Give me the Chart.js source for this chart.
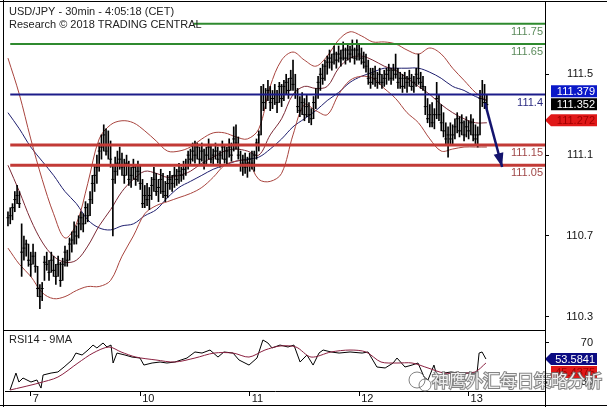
<!DOCTYPE html>
<html>
<head>
<meta charset="utf-8">
<script src="https://cdn.jsdelivr.net/npm/chart.js@4.4.0/dist/chart.umd.min.js"></script>
<style>
html,body{margin:0;padding:0;background:#fff;}
#wrap{position:relative;width:607px;height:407px;overflow:hidden;background:#fff;}
canvas{position:absolute;left:0;}
#main{top:0;}
#rsi{top:331px;}
.ln{position:absolute;background:#000;}
</style>
</head>
<body>
<div id="wrap">
  <canvas id="main" width="607" height="331"></canvas>
  <canvas id="rsi" width="607" height="76"></canvas>
  <div class="ln" style="left:0;top:1px;width:607px;height:1px"></div>
  <div class="ln" style="left:3px;top:0;width:1px;height:407px"></div>
  <div class="ln" style="left:545px;top:2px;width:1px;height:405px"></div>
  <div class="ln" style="left:3px;top:330px;width:542px;height:1px"></div>
  <div class="ln" style="left:0;top:405px;width:607px;height:1px"></div>
</div>
<script>
// Barres 30 min (index 0..210)
const barHigh = [
110.82,110.84,110.86,110.92,110.95,110.92,110.76,110.70,110.68,110.66,
110.62,110.66,110.62,110.55,110.46,110.47,110.60,110.62,110.58,110.62,
110.60,110.56,110.60,110.57,110.59,110.65,110.63,110.69,110.72,110.77,
110.75,110.80,110.82,110.81,110.87,110.86,110.92,111.00,111.05,111.10,
111.16,111.20,111.25,111.23,111.22,111.17,111.05,111.09,111.12,111.14,
111.11,111.08,111.10,111.07,111.04,111.08,111.05,111.07,111.05,110.98,
110.95,110.96,110.94,110.99,111.04,111.01,110.98,111.03,111.01,110.97,
111.00,111.02,111.00,111.04,111.03,111.06,111.04,111.07,111.08,111.12,
111.13,111.16,111.17,111.16,111.14,111.16,111.13,111.14,111.18,111.15,
111.13,111.16,111.14,111.12,111.17,111.15,111.14,111.18,111.16,111.24,
111.25,111.19,111.12,111.10,111.11,111.09,111.11,111.12,111.12,111.18,
111.22,111.44,111.45,111.43,111.47,111.44,111.42,111.45,111.42,111.46,
111.45,111.47,111.50,111.48,111.52,111.57,111.50,111.43,111.39,111.41,
111.38,111.40,111.36,111.33,111.39,111.43,111.49,111.53,111.55,111.57,
111.59,111.62,111.60,111.64,111.61,111.64,111.62,111.66,111.63,111.65,
111.64,111.67,111.63,111.67,111.65,111.63,111.61,111.60,111.57,111.53,
111.53,111.54,111.51,111.53,111.50,111.52,111.53,111.55,111.53,111.55,
111.60,111.53,111.51,111.50,111.51,111.49,111.52,111.50,111.49,111.53,
111.60,111.51,111.49,111.44,111.38,111.35,111.36,111.33,111.46,111.40,
111.35,111.31,111.26,111.24,111.26,111.25,111.28,111.31,111.29,111.30,
111.27,111.29,111.27,111.30,111.28,111.25,111.24,111.42,111.47,111.45,
111.40];
const barLow = [
110.75,110.76,110.78,110.82,110.86,110.84,110.50,110.58,110.60,110.55,
110.50,110.56,110.52,110.40,110.34,110.38,110.48,110.53,110.48,110.52,
110.50,110.46,110.50,110.45,110.48,110.55,110.55,110.58,110.62,110.66,
110.66,110.69,110.73,110.72,110.76,110.77,110.80,110.86,110.92,110.96,
111.02,111.08,111.12,111.10,111.08,111.04,110.70,110.96,111.00,111.03,
111.00,110.96,111.00,110.95,110.94,110.98,110.95,110.97,110.93,110.84,
110.84,110.85,110.83,110.88,110.92,110.90,110.87,110.91,110.89,110.87,
110.89,110.93,110.92,110.94,110.95,110.96,110.97,110.98,111.00,111.03,
111.05,111.07,111.06,111.08,111.05,111.07,111.03,111.05,111.08,111.06,
111.05,111.08,111.06,111.04,111.08,111.06,111.05,111.09,111.07,111.12,
111.13,111.08,111.02,111.00,111.01,110.99,111.02,111.03,111.02,111.08,
111.12,111.20,111.32,111.33,111.37,111.32,111.33,111.35,111.31,111.36,
111.34,111.37,111.40,111.38,111.42,111.42,111.38,111.31,111.29,111.30,
111.27,111.29,111.26,111.25,111.28,111.33,111.38,111.42,111.45,111.47,
111.50,111.53,111.52,111.55,111.53,111.56,111.54,111.57,111.55,111.57,
111.56,111.58,111.55,111.57,111.57,111.55,111.53,111.51,111.45,111.43,
111.45,111.44,111.43,111.45,111.43,111.44,111.45,111.47,111.45,111.47,
111.48,111.43,111.43,111.41,111.43,111.41,111.44,111.42,111.41,111.44,
111.45,111.43,111.42,111.30,111.26,111.24,111.24,111.23,111.28,111.27,
111.22,111.19,111.15,111.09,111.15,111.15,111.18,111.21,111.19,111.20,
111.17,111.19,111.18,111.20,111.17,111.15,111.14,111.20,111.34,111.33,
111.32];
const barClose = [
110.79,110.80,110.84,110.88,110.90,110.86,110.62,110.64,110.66,110.58,
110.56,110.60,110.55,110.44,110.40,110.44,110.57,110.56,110.52,110.58,
110.53,110.50,110.56,110.48,110.56,110.62,110.58,110.66,110.68,110.72,
110.70,110.76,110.79,110.76,110.84,110.80,110.88,110.96,111.00,111.04,
111.12,111.14,111.20,111.12,111.15,111.08,110.98,111.02,111.06,111.08,
111.04,111.00,111.06,110.98,111.00,111.04,110.98,111.02,110.96,110.86,
110.90,110.88,110.90,110.95,110.98,110.92,110.94,110.98,110.92,110.90,
110.96,110.98,110.96,111.00,110.98,111.02,111.00,111.03,111.05,111.10,
111.08,111.12,111.10,111.14,111.08,111.12,111.06,111.10,111.14,111.08,
111.10,111.12,111.08,111.10,111.14,111.08,111.12,111.14,111.10,111.18,
111.16,111.10,111.05,111.06,111.04,111.06,111.08,111.06,111.10,111.16,
111.20,111.40,111.36,111.40,111.42,111.36,111.38,111.40,111.36,111.44,
111.38,111.44,111.46,111.42,111.48,111.45,111.40,111.34,111.32,111.36,
111.30,111.34,111.30,111.28,111.36,111.40,111.46,111.50,111.48,111.54,
111.56,111.58,111.56,111.60,111.57,111.60,111.58,111.62,111.58,111.62,
111.60,111.62,111.58,111.62,111.60,111.58,111.56,111.54,111.48,111.46,
111.50,111.48,111.46,111.50,111.46,111.48,111.50,111.52,111.48,111.52,
111.50,111.46,111.48,111.44,111.48,111.46,111.48,111.44,111.46,111.50,
111.48,111.46,111.44,111.34,111.28,111.30,111.26,111.30,111.38,111.30,
111.26,111.22,111.18,111.20,111.18,111.20,111.24,111.28,111.22,111.26,
111.20,111.24,111.22,111.26,111.20,111.18,111.20,111.38,111.40,111.36,
111.35];

// Bandes de Bollinger et moyenne longue (un point toutes les 5 barres)
const lineIdx = [0,5,10,15,20,25,30,35,40,45,50,55,60,65,70,75,80,85,90,95,100,105,
                 110,115,120,125,130,135,140,145,150,155,160,165,170,175,180,185,190,195,200,205,210];
const bbUpper = [111.58,111.40,111.18,110.98,110.81,110.69,110.76,110.96,111.18,111.25,
                 111.27,111.26,111.22,111.17,111.12,111.12,111.14,111.18,111.21,111.21,
                 111.19,111.18,111.23,111.44,111.57,111.61,111.57,111.54,111.59,111.67,
                 111.71,111.69,111.66,111.66,111.65,111.62,111.60,111.63,111.60,111.53,
                 111.47,111.41,111.37];
const bbMid = [111.05,110.92,110.78,110.67,110.60,110.57,110.58,110.65,110.75,110.83,
               110.92,110.98,111.02,111.01,110.99,111.00,111.02,111.06,111.09,111.12,
               111.13,111.12,111.10,111.20,111.28,111.40,111.44,111.43,111.44,111.53,
               111.58,111.59,111.57,111.54,111.52,111.48,111.44,111.40,111.35,111.31,
               111.28,111.26,111.26];
const bbLower = [110.64,110.56,110.50,110.42,110.39,110.40,110.43,110.45,110.45,110.48,
                 110.60,110.70,110.81,110.85,110.87,110.89,110.91,110.94,110.99,111.05,
                 111.07,111.07,110.98,110.97,111.01,111.20,111.35,111.32,111.30,111.40,
                 111.47,111.49,111.48,111.43,111.38,111.31,111.26,111.18,111.12,111.13,
                 111.14,111.14,111.14];
const maLong = [111.31,111.23,111.14,111.07,111.00,110.92,110.86,110.78,110.74,110.73,
                110.75,110.76,110.80,110.83,110.89,110.94,110.97,111.00,111.03,111.05,
                111.07,111.08,111.09,111.13,111.18,111.24,111.28,111.32,111.37,111.41,
                111.46,111.49,111.51,111.53,111.53,111.53,111.53,111.51,111.48,111.44,
                111.42,111.39,111.37];

// Niveaux
const levelVals = [111.75, 111.65, 111.4, 111.15, 111.05];
const levelLabels = ['111.75','111.65','111.4','111.15','111.05'];
const levelStart = 1;

// Fleche de projection
const arrowX = [209.2, 216.7];
const arrowY = [111.357, 111.041];

// Axe des prix
const priceTicks = [110.3, 110.7, 111.1, 111.5];
const yMin = 110.2546, yMax = 111.8427;
const xMin = -1.3, xMax = 235.5;
const boxVals = [111.379, 111.352, 111.272];
const boxTexts = ['111.379', '111.352', '111.272'];

// Jours
const dayIdx = [10, 58, 106, 154, 202];
const dayLabels = ['7', '10', '11', '12', '13'];

// RSI 14 et sa moyenne 9
const rsiX = [0.9,3.5,4.8,6.6,10.1,12.7,14.5,15.4,18.9,21.9,24.6,28.1,29.8,32.5,35.1,
              37.3,39.0,41.7,43.4,45.2,46.1,47.8,51.3,54.4,57.9,59.6,63.2,66.7,69.7,73.2,
              78.5,82.0,85.1,88.6,92.1,94.7,98.7,101.3,105.7,109.2,111.8,114.0,115.8,119.3,122.8,
              125.4,128.1,131.1,133.8,136.4,138.2,141.7,145.2,150.0,155.3,157.9,161.8,165.4,168.9,170.6,
              174.1,177.2,179.8,182.5,184.2,186.8,188.6,191.2,194.3,197.8,201.3,205.7,206.6,207.9,209.6];
const rsiVal = [21.8,39.2,30.0,34.1,30.0,32.1,23.8,37.2,39.2,40.3,45.4,52.6,59.7,57.7,62.8,
                67.9,64.9,70.0,65.9,67.9,49.5,59.7,57.7,55.6,54.6,47.4,49.5,50.5,49.5,50.5,
                54.6,60.8,59.7,62.8,55.6,60.8,59.7,52.6,47.4,54.6,73.1,70.0,64.9,67.9,65.9,
                67.9,50.5,57.7,47.4,59.7,62.8,60.8,59.7,60.8,59.7,60.8,45.4,44.4,49.5,54.6,
                45.4,47.4,49.5,35.1,32.1,47.4,32.1,39.2,40.3,39.2,39.2,39.2,59.7,60.8,53.6];
const rsiMaX = [0.9,6.6,13.6,21.9,30.7,37.3,44.3,49.6,56.1,64.9,73.2,82.0,90.4,98.7,105.7,
                112.7,119.3,126.3,132.9,141.7,150.0,157.0,163.6,170.6,177.2,184.2,191.2,197.8,204.8,209.6];
const rsiMaVal = [21.8,24.9,29.0,35.1,49.5,59.7,65.9,60.8,55.6,52.6,50.5,54.6,59.7,59.7,55.6,
                  62.8,66.9,65.9,55.6,60.8,62.8,60.8,50.5,49.5,49.5,44.4,39.2,39.2,40.3,49.5];
const rsiTicks = [30, 70];
const rsiMin = 20.8, rsiMax = 82.3;
const rsiBoxVals = [53.5841, 45.4375];
const rsiBoxTexts = ['53.5841', '45.4375'];

const FONT = "'Liberation Sans', Arial, sans-serif";

const pts = (xs, ys) => xs.map((x, i) => ({x: x, y: ys[i]}));

// axe de droite : largeur fixe, pas de marge verticale
function fitRight(s){ s.width = 48; s.paddingTop = 0; s.paddingBottom = 0; }

// Boite de valeur a droite de l'axe
function valueBox(ctx, y, text, bg, fg, pointer){
  const h = 12, left = 551, right = 597;
  ctx.save();
  ctx.fillStyle = bg;
  ctx.beginPath();
  if (pointer){
    ctx.moveTo(545, y);
    ctx.lineTo(left, y - h/2);
    ctx.lineTo(right, y - h/2);
    ctx.lineTo(right, y + h/2);
    ctx.lineTo(left, y + h/2);
  } else {
    ctx.rect(left, y - h/2, right - left, h);
  }
  ctx.closePath();
  ctx.fill();
  ctx.fillStyle = fg;
  ctx.font = '11px ' + FONT;
  ctx.textAlign = 'right';
  ctx.textBaseline = 'middle';
  ctx.fillText(text, right - 2, y + 0.5);
  ctx.restore();
}

// -------- GRAPHIQUE PRINCIPAL --------
const levelColors = ['#2f8a2f','#2f8a2f','#1c1c8a','#c23a36','#c23a36'];
const levelText = ['#5b8a5b','#5b8a5b','#2a2a80','#a04848','#a04848'];
const levelWidth = [2, 2, 2, 3, 3];

const mainOverlay = {
  id: 'mainOverlay',
  afterDatasetsDraw(chart){
    const ctx = chart.ctx, xs = chart.scales.x, ys = chart.scales.y;
    ctx.save();
    // titre
    ctx.fillStyle = '#fff';
    ctx.fillRect(4, 3, 190, 28);
    ctx.fillStyle = '#222';
    ctx.font = '11px ' + FONT;
    ctx.textAlign = 'left';
    ctx.textBaseline = 'middle';
    ctx.fillText('USD/JPY - 30min - 4:05:18 (CET)', 9, 11.5);
    ctx.fillText('Research \u00A9 2018 TRADING CENTRAL', 9, 24.5);
    // etiquettes des niveaux
    ctx.textAlign = 'right';
    levelVals.forEach((v, k) => {
      ctx.fillStyle = levelText[k];
      ctx.fillText(levelLabels[k], xs.right - 2, ys.getPixelForValue(v) + 8);
    });
    // pointe de fleche
    const x0 = xs.getPixelForValue(arrowX[0]), y0 = ys.getPixelForValue(arrowY[0]);
    const x1 = xs.getPixelForValue(arrowX[1]), y1 = ys.getPixelForValue(arrowY[1]);
    const a = Math.atan2(y1 - y0, x1 - x0);
    const L = 14, W = 5;
    ctx.fillStyle = '#14146e';
    ctx.beginPath();
    ctx.moveTo(x1, y1);
    ctx.lineTo(x1 - L*Math.cos(a) + W*Math.sin(a), y1 - L*Math.sin(a) - W*Math.cos(a));
    ctx.lineTo(x1 - L*Math.cos(a) - W*Math.sin(a), y1 - L*Math.sin(a) + W*Math.cos(a));
    ctx.closePath();
    ctx.fill();
    ctx.restore();
  },
  afterDraw(chart){
    const ctx = chart.ctx, ys = chart.scales.y;
    const yBlack = ys.getPixelForValue(boxVals[1]);
    valueBox(ctx, yBlack - 13, boxTexts[0], '#0a18c8', '#fff', false);
    valueBox(ctx, yBlack, boxTexts[1], '#000', '#fff', false);
    valueBox(ctx, ys.getPixelForValue(boxVals[2]), boxTexts[2], '#e01818', '#a00000', true);
  }
};

const barData = barHigh.map((h, i) => ({x: i, y: [barLow[i], h]}));
const closeData = barClose.map((c, i) => ({x: i, y: c}));

const levelSets = levelVals.map((v, k) => ({
  type: 'line',
  data: [{x: levelStart, y: v}, {x: xMax, y: v}],
  borderColor: levelColors[k],
  borderWidth: levelWidth[k],
  pointRadius: 0,
  order: 1
}));

const bandStyle = (color) => ({
  type: 'line', borderColor: color, borderWidth: 1, pointRadius: 0,
  tension: 0.35, fill: false, order: 6
});

const mainChart = new Chart(document.getElementById('main'), {
  type: 'bar',
  data: {
    datasets: [
      Object.assign({data: pts(lineIdx, bbUpper)}, bandStyle('#a8443e')),
      Object.assign({data: pts(lineIdx, bbLower)}, bandStyle('#a8443e')),
      Object.assign({data: pts(lineIdx, bbMid)}, bandStyle('#7c2a36')),
      Object.assign({data: pts(lineIdx, maLong)}, bandStyle('#1e1e6e')),
      {type: 'bar', data: barData, backgroundColor: '#000', barThickness: 1, order: 4},
      {type: 'scatter', data: closeData, pointStyle: 'line', pointRadius: 1.5,
       borderColor: '#000', borderWidth: 1, order: 3},
      ...levelSets,
      {type: 'line', data: pts(arrowX, arrowY), borderColor: '#14146e', borderWidth: 2.5,
       pointRadius: 0, order: 0}
    ]
  },
  options: {
    responsive: false,
    devicePixelRatio: 1,
    animation: false,
    events: [],
    layout: {padding: {left: 5, top: 3, right: 14, bottom: 1}},
    plugins: {legend: {display: false}, tooltip: {enabled: false}},
    scales: {
      x: {type: 'linear', min: xMin, max: xMax, offset: false, display: false},
      y: {
        position: 'right', min: yMin, max: yMax,
        afterFit: fitRight,
        afterBuildTicks(s){ s.ticks = priceTicks.map(v => ({value: v})); },
        grid: {drawOnChartArea: false, drawTicks: true, tickLength: 4, color: '#000'},
        border: {display: false},
        ticks: {crossAlign: 'far', padding: 17, color: '#111',
                font: {family: FONT, size: 11}, callback: v => v.toFixed(1)}
      }
    }
  },
  plugins: [mainOverlay]
});

// -------- RSI --------
const rsiOverlay = {
  id: 'rsiOverlay',
  afterDraw(chart){
    const ctx = chart.ctx, ys = chart.scales.y;
    ctx.save();
    ctx.fillStyle = '#222';
    ctx.font = '11px ' + FONT;
    ctx.textAlign = 'left';
    ctx.textBaseline = 'middle';
    ctx.fillText('RSI14 - 9MA', 9, 9);
    ctx.restore();
    const yr = ys.getPixelForValue(rsiBoxVals[0]);
    valueBox(ctx, yr, rsiBoxTexts[0], '#0c0c82', '#fff', true);
    valueBox(ctx, yr + 13, rsiBoxTexts[1], '#e01818', '#a00000', false);
    // filigrane
    ctx.save();
    ctx.strokeStyle = 'rgba(110,110,110,0.85)';
    ctx.lineWidth = 1;
    ctx.beginPath();
    ctx.arc(417, 49, 8, 0, Math.PI*2);
    ctx.stroke();
    ctx.beginPath();
    ctx.arc(425, 54, 6, 0, Math.PI*2);
    ctx.stroke();
    ctx.font = "17px 'Noto Sans CJK SC', sans-serif";
    ctx.textAlign = 'left';
    ctx.textBaseline = 'middle';
    ctx.lineWidth = 2;
    ctx.strokeStyle = 'rgba(110,110,110,0.85)';
    ctx.strokeText('神鹰外汇每日策略分析', 432, 50);
    ctx.fillStyle = 'rgba(245,245,245,0.95)';
    ctx.fillText('神鹰外汇每日策略分析', 432, 50);
    ctx.restore();
  }
};

const rsiChart = new Chart(document.getElementById('rsi'), {
  type: 'line',
  data: {
    datasets: [
      {data: pts(rsiMaX, rsiMaVal), borderColor: '#8a2040', borderWidth: 1, pointRadius: 0, tension: 0.3},
      {data: pts(rsiX, rsiVal), borderColor: '#000', borderWidth: 1, pointRadius: 0, tension: 0}
    ]
  },
  options: {
    responsive: false,
    devicePixelRatio: 1,
    animation: false,
    events: [],
    layout: {padding: {left: 5, top: 0, right: 14, bottom: 0}},
    plugins: {legend: {display: false}, tooltip: {enabled: false}},
    scales: {
      x: {
        type: 'linear', min: xMin, max: xMax, offset: false,
        afterFit(s){ s.height = 16; s.paddingLeft = 0; s.paddingRight = 0; },
        afterBuildTicks(s){ s.ticks = dayIdx.map(v => ({value: v})); },
        grid: {drawOnChartArea: false, drawTicks: true, tickLength: 5, color: '#000'},
        border: {display: true, color: '#000'},
        ticks: {align: 'start', labelOffset: 2, padding: -4, color: '#111', maxRotation: 0,
                font: {family: FONT, size: 11},
                callback: v => { const k = dayIdx.indexOf(v); return k >= 0 ? dayLabels[k] : ''; }}
      },
      y: {
        position: 'right', min: rsiMin, max: rsiMax,
        afterFit: fitRight,
        afterBuildTicks(s){ s.ticks = rsiTicks.map(v => ({value: v})); },
        grid: {drawOnChartArea: false, drawTicks: true, tickLength: 4, color: '#000'},
        border: {display: false},
        ticks: {crossAlign: 'far', padding: 31, color: '#111',
                font: {family: FONT, size: 11}, callback: v => String(v)}
      }
    }
  },
  plugins: [rsiOverlay]
});
</script>
</body>
</html>
